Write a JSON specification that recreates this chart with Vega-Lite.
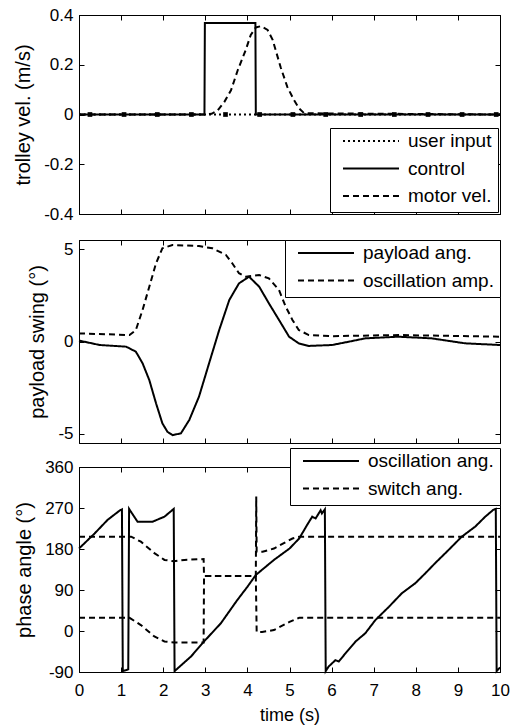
{
  "$schema": "https://vega.github.io/schema/vega-lite/v6.json",
  "padding": {"left": 13, "top": 5, "right": 4, "bottom": 5},
  "background": "white",
  "config": {
    "view": {"stroke": "black", "strokeWidth": 1},
    "font": "Liberation Sans",
    "axis": {
      "labelFont": "Liberation Sans", "labelFontSize": 17, "labelColor": "black",
      "titleFont": "Liberation Sans", "titleFontSize": 20, "titleFontWeight": "normal", "titleColor": "black",
      "domainColor": "black", "tickColor": "black", "tickSize": -5, "tickWidth": 1,
      "grid": false, "labelPadding": 11, "titlePadding": 10, "minExtent": 0, "labelFlush": false
    },
    "axisX": {"labelPadding": 15, "titleFontSize": 18, "titlePadding": 8},
    "legend": {
      "title": null, "symbolType": "stroke", "symbolSize": 3136, "symbolStrokeWidth": 2,
      "symbolStrokeColor": "black", "labelFont": "Liberation Sans", "labelFontSize": 19,
      "labelColor": "black", "strokeColor": "black", "fillColor": "white", "padding": 6,
      "cornerRadius": 0, "clipHeight": 14, "rowPadding": 8.5, "symbolOffset": 6, "labelOffset": 8
    }
  },
  "datasets": {
    "p1": [
      {"t": 0, "v": 0, "s": "user input"}, {"t": 10, "v": 0, "s": "user input"},
      {"t": 0, "v": 0, "s": "control"}, {"t": 2.98, "v": 0, "s": "control"}, {"t": 2.99, "v": 0.368, "s": "control"},
      {"t": 4.19, "v": 0.368, "s": "control"}, {"t": 4.2, "v": 0, "s": "control"}, {"t": 10, "v": 0, "s": "control"},
      {"t": 0, "v": 0, "s": "motor vel."}, {"t": 3.0, "v": 0, "s": "motor vel."}, {"t": 3.15, "v": 0.003, "s": "motor vel."},
      {"t": 3.29, "v": 0.016, "s": "motor vel."}, {"t": 3.45, "v": 0.05, "s": "motor vel."}, {"t": 3.61, "v": 0.097, "s": "motor vel."},
      {"t": 3.77, "v": 0.178, "s": "motor vel."}, {"t": 3.96, "v": 0.259, "s": "motor vel."}, {"t": 4.08, "v": 0.32, "s": "motor vel."},
      {"t": 4.2, "v": 0.35, "s": "motor vel."}, {"t": 4.32, "v": 0.355, "s": "motor vel."}, {"t": 4.48, "v": 0.34, "s": "motor vel."},
      {"t": 4.6, "v": 0.3, "s": "motor vel."}, {"t": 4.79, "v": 0.19, "s": "motor vel."}, {"t": 4.95, "v": 0.11, "s": "motor vel."},
      {"t": 5.11, "v": 0.057, "s": "motor vel."}, {"t": 5.23, "v": 0.024, "s": "motor vel."}, {"t": 5.35, "v": 0.005, "s": "motor vel."},
      {"t": 10, "v": 0, "s": "motor vel."}
    ],
    "p1m": [
      {"t": 0.26, "v": 0}, {"t": 1.07, "v": 0}, {"t": 1.86, "v": 0}, {"t": 2.67, "v": 0}, {"t": 3.48, "v": 0},
      {"t": 4.29, "v": 0}, {"t": 5.08, "v": 0}, {"t": 5.86, "v": 0}, {"t": 6.69, "v": 0}, {"t": 7.49, "v": 0},
      {"t": 8.29, "v": 0}, {"t": 9.1, "v": 0}, {"t": 9.91, "v": 0}
    ],
    "p2": [
      {"t": 0, "v": 0.05, "s": "payload ang."}, {"t": 0.49, "v": -0.19, "s": "payload ang."}, {"t": 1.12, "v": -0.28, "s": "payload ang."},
      {"t": 1.35, "v": -0.55, "s": "payload ang."}, {"t": 1.51, "v": -1.18, "s": "payload ang."}, {"t": 1.67, "v": -2.09, "s": "payload ang."},
      {"t": 1.83, "v": -3.35, "s": "payload ang."}, {"t": 1.98, "v": -4.43, "s": "payload ang."}, {"t": 2.1, "v": -4.89, "s": "payload ang."},
      {"t": 2.22, "v": -5.07, "s": "payload ang."}, {"t": 2.42, "v": -4.98, "s": "payload ang."}, {"t": 2.62, "v": -4.25, "s": "payload ang."},
      {"t": 2.85, "v": -2.99, "s": "payload ang."}, {"t": 3.09, "v": -1.18, "s": "payload ang."}, {"t": 3.33, "v": 0.62, "s": "payload ang."},
      {"t": 3.57, "v": 2.25, "s": "payload ang."}, {"t": 3.8, "v": 3.15, "s": "payload ang."}, {"t": 4.04, "v": 3.51, "s": "payload ang."},
      {"t": 4.28, "v": 2.97, "s": "payload ang."}, {"t": 4.51, "v": 2.07, "s": "payload ang."}, {"t": 4.75, "v": 1.17, "s": "payload ang."},
      {"t": 4.99, "v": 0.26, "s": "payload ang."}, {"t": 5.22, "v": -0.1, "s": "payload ang."}, {"t": 5.46, "v": -0.24, "s": "payload ang."},
      {"t": 6.01, "v": -0.19, "s": "payload ang."}, {"t": 6.41, "v": -0.01, "s": "payload ang."}, {"t": 6.8, "v": 0.17, "s": "payload ang."},
      {"t": 7.59, "v": 0.26, "s": "payload ang."}, {"t": 8.38, "v": 0.17, "s": "payload ang."}, {"t": 9.17, "v": -0.1, "s": "payload ang."},
      {"t": 10, "v": -0.19, "s": "payload ang."},
      {"t": 0, "v": 0.44, "s": "oscillation amp."}, {"t": 1.2, "v": 0.35, "s": "oscillation amp."}, {"t": 1.35, "v": 0.62, "s": "oscillation amp."},
      {"t": 1.51, "v": 1.71, "s": "oscillation amp."}, {"t": 1.67, "v": 2.97, "s": "oscillation amp."}, {"t": 1.83, "v": 4.24, "s": "oscillation amp."},
      {"t": 1.98, "v": 5.05, "s": "oscillation amp."}, {"t": 2.22, "v": 5.23, "s": "oscillation amp."}, {"t": 2.85, "v": 5.17, "s": "oscillation amp."},
      {"t": 3.17, "v": 5.05, "s": "oscillation amp."}, {"t": 3.49, "v": 4.69, "s": "oscillation amp."}, {"t": 3.64, "v": 4.24, "s": "oscillation amp."},
      {"t": 3.8, "v": 3.7, "s": "oscillation amp."}, {"t": 3.96, "v": 3.51, "s": "oscillation amp."}, {"t": 4.28, "v": 3.6, "s": "oscillation amp."},
      {"t": 4.51, "v": 3.42, "s": "oscillation amp."}, {"t": 4.75, "v": 2.79, "s": "oscillation amp."}, {"t": 4.91, "v": 1.89, "s": "oscillation amp."},
      {"t": 5.07, "v": 1.17, "s": "oscillation amp."}, {"t": 5.22, "v": 0.62, "s": "oscillation amp."}, {"t": 5.46, "v": 0.35, "s": "oscillation amp."},
      {"t": 6.01, "v": 0.29, "s": "oscillation amp."}, {"t": 7.59, "v": 0.35, "s": "oscillation amp."}, {"t": 10, "v": 0.26, "s": "oscillation amp."}
    ],
    "p3": [
      {"t": 0, "v": 181, "s": "oscillation ang.", "p": "a"}, {"t": 0.37, "v": 214, "s": "oscillation ang.", "p": "a"},
      {"t": 0.68, "v": 244, "s": "oscillation ang.", "p": "a"}, {"t": 0.96, "v": 264, "s": "oscillation ang.", "p": "a"},
      {"t": 1.02, "v": 267, "s": "oscillation ang.", "p": "a"}, {"t": 1.04, "v": -88, "s": "oscillation ang.", "p": "a"},
      {"t": 1.12, "v": -86, "s": "oscillation ang.", "p": "a"}, {"t": 1.17, "v": -84, "s": "oscillation ang.", "p": "a"},
      {"t": 1.19, "v": 268, "s": "oscillation ang.", "p": "a"}, {"t": 1.39, "v": 240, "s": "oscillation ang.", "p": "a"},
      {"t": 1.75, "v": 240, "s": "oscillation ang.", "p": "a"}, {"t": 2.03, "v": 251, "s": "oscillation ang.", "p": "a"},
      {"t": 2.25, "v": 268, "s": "oscillation ang.", "p": "a"}, {"t": 2.27, "v": -88, "s": "oscillation ang.", "p": "a"},
      {"t": 2.66, "v": -56, "s": "oscillation ang.", "p": "a"}, {"t": 2.97, "v": -23, "s": "oscillation ang.", "p": "a"},
      {"t": 3.37, "v": 17, "s": "oscillation ang.", "p": "a"}, {"t": 3.76, "v": 68, "s": "oscillation ang.", "p": "a"},
      {"t": 4.0, "v": 97, "s": "oscillation ang.", "p": "a"}, {"t": 4.2, "v": 123, "s": "oscillation ang.", "p": "a"},
      {"t": 4.63, "v": 156, "s": "oscillation ang.", "p": "a"}, {"t": 5.0, "v": 181, "s": "oscillation ang.", "p": "a"},
      {"t": 5.23, "v": 203, "s": "oscillation ang.", "p": "a"}, {"t": 5.42, "v": 233, "s": "oscillation ang.", "p": "a"},
      {"t": 5.54, "v": 251, "s": "oscillation ang.", "p": "a"}, {"t": 5.62, "v": 247, "s": "oscillation ang.", "p": "a"},
      {"t": 5.74, "v": 265, "s": "oscillation ang.", "p": "a"}, {"t": 5.77, "v": 258, "s": "oscillation ang.", "p": "a"},
      {"t": 5.84, "v": 267, "s": "oscillation ang.", "p": "a"}, {"t": 5.86, "v": -88, "s": "oscillation ang.", "p": "a"},
      {"t": 5.93, "v": -78, "s": "oscillation ang.", "p": "a"}, {"t": 6.09, "v": -64, "s": "oscillation ang.", "p": "a"},
      {"t": 6.17, "v": -67, "s": "oscillation ang.", "p": "a"}, {"t": 6.33, "v": -49, "s": "oscillation ang.", "p": "a"},
      {"t": 6.57, "v": -23, "s": "oscillation ang.", "p": "a"}, {"t": 6.8, "v": -5, "s": "oscillation ang.", "p": "a"},
      {"t": 7.04, "v": 24, "s": "oscillation ang.", "p": "a"}, {"t": 7.36, "v": 53, "s": "oscillation ang.", "p": "a"},
      {"t": 7.67, "v": 83, "s": "oscillation ang.", "p": "a"}, {"t": 7.99, "v": 105, "s": "oscillation ang.", "p": "a"},
      {"t": 8.23, "v": 127, "s": "oscillation ang.", "p": "a"}, {"t": 8.46, "v": 149, "s": "oscillation ang.", "p": "a"},
      {"t": 8.78, "v": 178, "s": "oscillation ang.", "p": "a"}, {"t": 9.09, "v": 207, "s": "oscillation ang.", "p": "a"},
      {"t": 9.41, "v": 229, "s": "oscillation ang.", "p": "a"}, {"t": 9.65, "v": 251, "s": "oscillation ang.", "p": "a"},
      {"t": 9.84, "v": 266, "s": "oscillation ang.", "p": "a"}, {"t": 9.9, "v": 268, "s": "oscillation ang.", "p": "a"},
      {"t": 9.92, "v": -88, "s": "oscillation ang.", "p": "a"}, {"t": 10, "v": -80, "s": "oscillation ang.", "p": "a"},
      {"t": 0, "v": 207, "s": "switch ang.", "p": "u"}, {"t": 1.24, "v": 207, "s": "switch ang.", "p": "u"},
      {"t": 1.47, "v": 196, "s": "switch ang.", "p": "u"}, {"t": 1.79, "v": 171, "s": "switch ang.", "p": "u"},
      {"t": 2.03, "v": 156, "s": "switch ang.", "p": "u"}, {"t": 2.26, "v": 153, "s": "switch ang.", "p": "u"},
      {"t": 2.5, "v": 156, "s": "switch ang.", "p": "u"}, {"t": 2.96, "v": 158, "s": "switch ang.", "p": "u"},
      {"t": 2.97, "v": 121, "s": "switch ang.", "p": "u"}, {"t": 4.2, "v": 121, "s": "switch ang.", "p": "u"},
      {"t": 4.21, "v": 295, "s": "switch ang.", "p": "u"}, {"t": 4.22, "v": 174, "s": "switch ang.", "p": "u"},
      {"t": 4.36, "v": 174, "s": "switch ang.", "p": "u"}, {"t": 4.63, "v": 181, "s": "switch ang.", "p": "u"},
      {"t": 5.07, "v": 203, "s": "switch ang.", "p": "u"}, {"t": 5.23, "v": 207, "s": "switch ang.", "p": "u"},
      {"t": 10, "v": 207, "s": "switch ang.", "p": "u"},
      {"t": 0, "v": 29, "s": "switch ang.", "p": "l"}, {"t": 1.2, "v": 29, "s": "switch ang.", "p": "l"},
      {"t": 1.47, "v": 13, "s": "switch ang.", "p": "l"}, {"t": 1.79, "v": -12, "s": "switch ang.", "p": "l"},
      {"t": 2.03, "v": -23, "s": "switch ang.", "p": "l"}, {"t": 2.26, "v": -25, "s": "switch ang.", "p": "l"},
      {"t": 2.96, "v": -25, "s": "switch ang.", "p": "l"}, {"t": 2.97, "v": 121, "s": "switch ang.", "p": "l"},
      {"t": 4.2, "v": 121, "s": "switch ang.", "p": "l"}, {"t": 4.22, "v": -2, "s": "switch ang.", "p": "l"},
      {"t": 4.35, "v": -2, "s": "switch ang.", "p": "l"}, {"t": 4.63, "v": 2, "s": "switch ang.", "p": "l"},
      {"t": 5.0, "v": 20, "s": "switch ang.", "p": "l"}, {"t": 5.23, "v": 29, "s": "switch ang.", "p": "l"},
      {"t": 10, "v": 29, "s": "switch ang.", "p": "l"}
    ]
  },
  "vconcat": [
    {
      "vconcat": [
        {
          "width": 421, "height": 199,
          "layer": [
            {
              "data": {"name": "p1"},
              "mark": {"type": "line", "color": "black", "strokeWidth": 2},
              "encoding": {
                "x": {"field": "t", "type": "quantitative", "scale": {"domain": [0, 10], "nice": false},
                      "axis": {"orient": "bottom", "labels": false, "title": null, "values": [0,1,2,3,4,5,6,7,8,9,10]}},
                "y": {"field": "v", "type": "quantitative", "scale": {"domain": [-0.4, 0.4], "nice": false},
                      "axis": {"title": "trolley vel. (m/s)", "values": [-0.4, -0.2, 0, 0.2, 0.4],
                               "labelExpr": "datum.value == 0 ? '0' : replace(format(datum.value, '.1f'), '\u2212', '-')"}},
                "strokeDash": {"field": "s", "type": "nominal",
                               "scale": {"domain": ["user input", "control", "motor vel."], "range": [[2, 3], [1, 0], [6, 4]]},
                               "legend": {"orient": "bottom-right", "offset": 2}}
              }
            },
            {
              "data": {"name": "p1m"},
              "mark": {"type": "point", "shape": "square", "filled": true, "color": "black", "size": 22, "opacity": 1},
              "encoding": {
                "x": {"field": "t", "type": "quantitative", "axis": null},
                "y": {"field": "v", "type": "quantitative", "axis": null}
              }
            },
            {
              "data": {"name": "p1m"},
              "mark": {"type": "point", "opacity": 0},
              "encoding": {
                "x": {"field": "t", "type": "quantitative", "axis": {"orient": "top", "labels": false, "title": null, "values": [0,1,2,3,4,5,6,7,8,9,10]}},
                "y": {"field": "v", "type": "quantitative", "axis": {"orient": "right", "labels": false, "title": null, "values": [-0.4, -0.2, 0, 0.2, 0.4]}}
              }
            }
          ],
          "resolve": {"axis": {"x": "independent", "y": "independent"}}
        },
        {
          "width": 421, "height": 203,
          "data": {"name": "p2"},
          "layer": [
            {
              "mark": {"type": "line", "color": "black", "strokeWidth": 2},
              "encoding": {
                "x": {"field": "t", "type": "quantitative", "scale": {"domain": [0, 10], "nice": false},
                      "axis": {"orient": "bottom", "labels": false, "title": null, "values": [0,1,2,3,4,5,6,7,8,9,10]}},
                "y": {"field": "v", "type": "quantitative", "scale": {"domain": [-5.5, 5.5], "nice": false},
                      "axis": {"title": "payload swing (°)", "values": [-5, 0, 5],
                               "labelExpr": "replace(format(datum.value, 'd'), '\u2212', '-')"}},
                "strokeDash": {"field": "s", "type": "nominal",
                               "scale": {"domain": ["payload ang.", "oscillation amp."], "range": [[1, 0], [6, 4]]},
                               "legend": {"orient": "top-right", "offset": 0}}
              }
            },
            {
              "mark": {"type": "point", "opacity": 0},
              "encoding": {
                "x": {"field": "t", "type": "quantitative", "axis": {"orient": "top", "labels": false, "title": null, "values": [0,1,2,3,4,5,6,7,8,9,10]}},
                "y": {"field": "v", "type": "quantitative", "axis": {"orient": "right", "labels": false, "title": null, "values": [-5, 0, 5]}}
              }
            }
          ],
          "resolve": {"axis": {"x": "independent", "y": "independent"}}
        }
      ],
      "spacing": 16,
      "resolve": {"scale": {"strokeDash": "independent"}, "legend": {"strokeDash": "independent"}}
    },
    {
      "width": 421, "height": 205,
      "data": {"name": "p3"},
      "layer": [
        {
          "mark": {"type": "line", "color": "black", "strokeWidth": 2},
          "encoding": {
            "x": {"field": "t", "type": "quantitative", "scale": {"domain": [0, 10], "nice": false},
                  "axis": {"orient": "bottom", "title": "time (s)", "values": [0,1,2,3,4,5,6,7,8,9,10]}},
            "y": {"field": "v", "type": "quantitative", "scale": {"domain": [-90, 360], "nice": false},
                  "axis": {"title": "phase angle (°)", "values": [-90, 0, 90, 180, 270, 360],
                           "labelExpr": "replace(format(datum.value, 'd'), '\u2212', '-')"}},
            "strokeDash": {"field": "s", "type": "nominal",
                           "scale": {"domain": ["oscillation ang.", "switch ang."], "range": [[1, 0], [6, 4]]},
                           "legend": {"orient": "none", "legendX": 211, "legendY": -19}},
            "detail": {"field": "p", "type": "nominal"}
          }
        },
        {
          "mark": {"type": "point", "opacity": 0},
          "encoding": {
            "x": {"field": "t", "type": "quantitative", "axis": {"orient": "top", "labels": false, "title": null, "values": [0,1,2,3,4,5,6,7,8,9,10]}},
            "y": {"field": "v", "type": "quantitative", "axis": {"orient": "right", "labels": false, "title": null, "values": [-90, 0, 90, 180, 270, 360]}}
          }
        }
      ],
      "resolve": {"axis": {"x": "independent", "y": "independent"}}
    }
  ],
  "spacing": 3,
  "resolve": {"scale": {"strokeDash": "independent"}, "legend": {"strokeDash": "independent"}}
}
